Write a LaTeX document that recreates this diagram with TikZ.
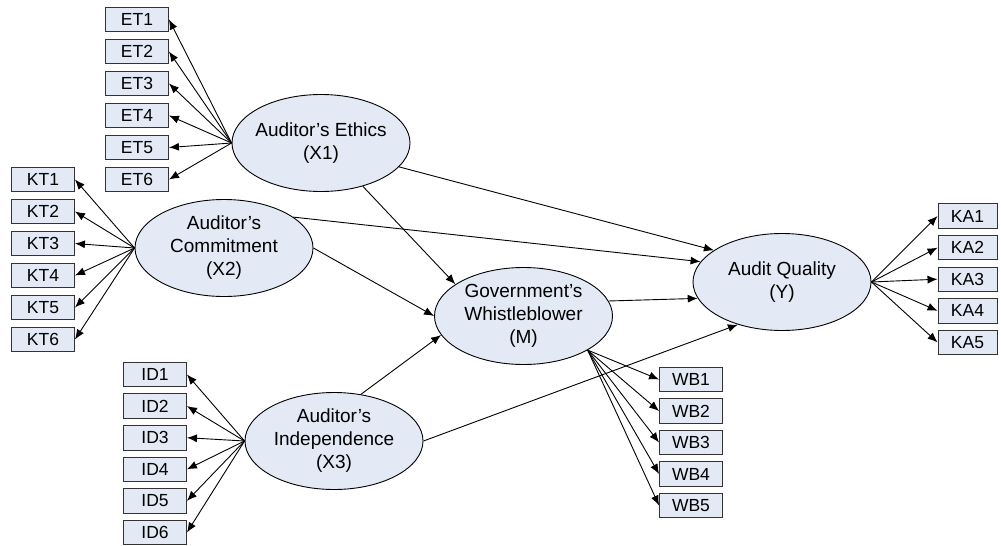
\documentclass[tikz,border=0pt]{standalone}
\usepackage{fontspec}
\setmainfont{Liberation Sans}
\usetikzlibrary{shapes.geometric,arrows.meta}
\definecolor{latfill}{RGB}{227,233,245}

\begin{document}
\begin{tikzpicture}[x=1pt, y=-1pt, >={Latex[length=10pt,width=8pt]}, line width=0.9pt]

    \tikzstyle{latent} = [ellipse, draw=black, fill=latfill, minimum width=178pt, minimum height=97pt, inner xsep=-8pt, inner ysep=0pt, align=center, font=\fontsize{19}{23}\selectfont]
    \tikzstyle{item} = [rectangle, draw=black!80, fill=latfill, minimum width=63pt, minimum height=24.5pt, inner sep=0pt, font=\fontsize{17.5}{20}\selectfont]

    \useasboundingbox (0,0) rectangle (1001,546);

    \node (ethics)  [latent] at (321,143)   {Auditor's Ethics\\(X1)};
    \node (commit)  [latent] at (224,248)   {Auditor's\\Commitment\\(X2)};
    \node (indep)   [latent] at (334,441)   {Auditor's\\Independence\\(X3)};
    \node (whistle) [latent] at (523.5,316) {Government's\\Whistleblower\\(M)};
    \node (quality) [latent] at (782,282)   {Audit Quality\\(Y)};

    % indicators
    \foreach \i in {1,...,6} {
        \node (et\i) [item] at (137,{19.5+32*(\i-1)})   {ET\i};
        \node (kt\i) [item] at (43,{179.5+32*(\i-1)})   {KT\i};
        \node (id\i) [item] at (155,{374.5+31.6*(\i-1)}) {ID\i};
        \path[->] (ethics.west) edge (et\i.east);
        \path[->] (commit.west) edge (kt\i.east);
        \path[->] (indep.west)  edge (id\i.east);
    }
    \foreach \i in {1,...,5} {
        \node (wb\i) [item] at (691,{379.5+31.5*(\i-1)}) {WB\i};
        \node (ka\i) [item, minimum width=59pt] at (967.5,{216+31.6*(\i-1)}) {KA\i};
        \path[->] (whistle.-28)  edge (wb\i.west);
        \path[->] (quality.east) edge (ka\i.west);
    }

    % structural paths
    \path[->] (ethics.-17)  edge (quality.155);
    \path[->] (ethics.-46)  edge (whistle.155);
    \path[->] (commit.24)   edge (quality.166);
    \path[->] (commit.east) edge (whistle.west);
    \path[->] (whistle.10)  edge (quality.191);
    \path[->] (indep.60)    edge (whistle.193);
    \path[->] (indep.east)  edge (quality.224);
\end{tikzpicture}
\end{document}
